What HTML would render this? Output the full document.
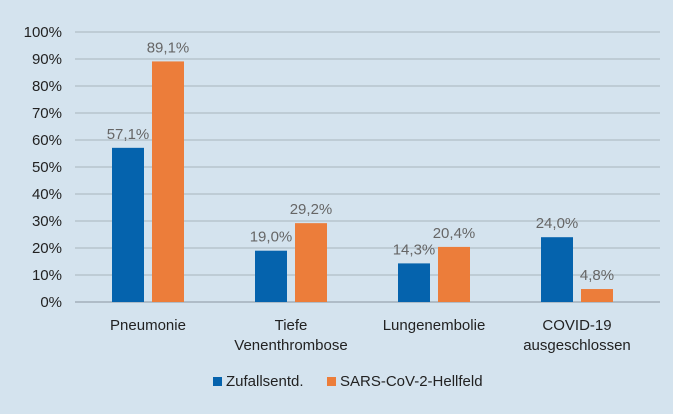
<!DOCTYPE html>
<html><head><meta charset="utf-8"><style>
body{margin:0;background:#d4e3ee;}
svg{display:block;font-family:"Liberation Sans",sans-serif;}
</style></head><body>
<svg width="673" height="414">
<rect width="673" height="414" fill="#d4e3ee"/>
<g id="grid"></g><g id="bars"></g><g id="labels"></g>
<g>
<rect x="213" y="377" width="9" height="9" fill="#0563ad"/>
<text x="226" y="386" font-size="15" fill="#222">Zufallsentd.</text>
<rect x="327" y="377" width="9" height="9" fill="#ec7d3a"/>
<text x="340" y="386" font-size="15" fill="#222">SARS-CoV-2-Hellfeld</text>
</g>
</svg>
<script>
const categories=[["Pneumonie"],["Tiefe","Venenthrombose"],["Lungenembolie"],["COVID-19","ausgeschlossen"]];
const zufall=[57.1,19.0,14.3,24.0];
const hellfeld=[89.1,29.2,20.4,4.8];
const ticks=[0,10,20,30,40,50,60,70,80,90,100];
const NS="http://www.w3.org/2000/svg";
const y0=302,y1=32,xL=75,xR=660,cx0=148,step=143,bw=32,gap=8;
const y=v=>y0-(v/100)*(y0-y1);
const x=i=>cx0+i*step;
function mk(t,a,p){const e=document.createElementNS(NS,t);for(const k in a)e.setAttribute(k,a[k]);p.appendChild(e);return e;}
const G=document.getElementById('grid'),B=document.getElementById('bars'),L=document.getElementById('labels');
ticks.forEach(t=>{
 const l=mk('line',{x1:xL,x2:xR,y1:y(t),y2:y(t),stroke:t===0?'#8a96a0':'#a9b4bc','stroke-width':1},G);
 
 
 const tx=mk('text',{x:62,y:y(t)+5,'text-anchor':'end','font-size':15,fill:'#222'},G);
 tx.textContent=t+'%';
 
 
});
const fmt=v=>v.toFixed(1).replace('.',',')+'%';
categories.forEach((c,i)=>{
 [[zufall,'#0563ad',-1,'zufall'],[hellfeld,'#ec7d3a',1,'hellfeld']].forEach(([arr,col,s,nm])=>{
  const v=arr[i];
  const bx=s<0?x(i)-gap/2-bw:x(i)+gap/2;
  const r=mk('rect',{x:bx,y:y(v),width:bw,height:y0-y(v),fill:col},B);
  
  
  const t=mk('text',{x:bx+bw/2,y:y(v)-9,'text-anchor':'middle','font-size':15,fill:'#666'},L);
  t.textContent=fmt(v);
  
  
 });
 c.forEach((ln,j)=>{
  const t=mk('text',{x:x(i),y:330+j*20,'text-anchor':'middle','font-size':15,fill:'#222'},L);
  t.textContent=ln;
  
  
 });
});
</script>
</body></html>
